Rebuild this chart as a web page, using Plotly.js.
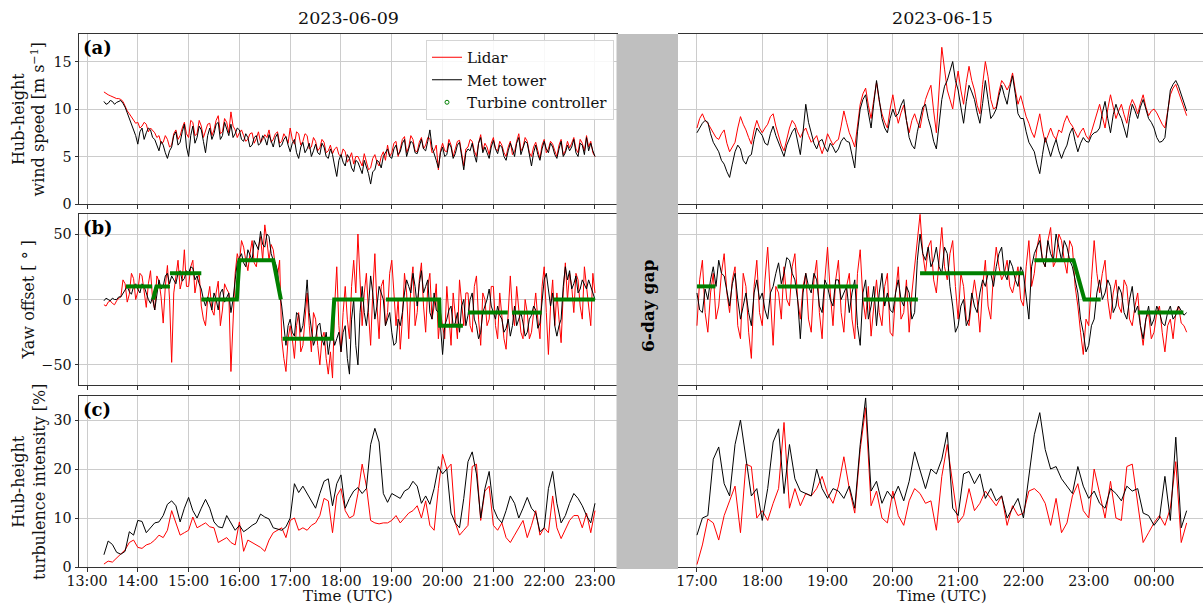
<!DOCTYPE html>
<html><head><meta charset="utf-8">
<script src="https://cdn.plot.ly/plotly-3.0.1.min.js"></script>
<style>html,body{margin:0;padding:0;background:#fff}#chart{width:1203px;height:606px}</style>
</head><body><div id="chart"></div>
<script>
// ---------------- DATA ----------------
const leftStart = '2023-06-09T13:20:00';   // first sample of 2023-06-09
const rightStart = '2023-06-15T17:00:00';  // first sample of 2023-06-15
const stepMinutes = 5;      // main samples; "Mid" arrays hold the samples half-way between them

// (a) Hub-height wind speed [m/s] — 2023-06-09 (13:20 … 23:00)
const wsLidarLeft = [
 11.8,11.5,11.3,11.1,11.0,10.3,9.5,8.8,
 8.6,8.2,8.4,8.0,7.5,7.2,6.5,6.8,6.2,7.8,7.2,8.6,
 7.0,8.6,7.4,8.2,7.6,8.5,7.8,9.3,7.6,8.6,9.7,7.8,
 7.5,7.2,6.8,7.5,6.9,6.5,7.3,7.8,6.8,7.6,6.6,7.0,
 8.0,6.3,7.4,6.6,7.2,6.0,6.6,5.9,6.5,5.6,5.3,6.0,
 5.0,5.5,4.8,4.2,5.0,4.0,4.5,3.8,5.2,4.0,5.5,6.2,
 5.4,6.6,5.8,7.1,6.0,6.8,5.5,7.0,6.2,6.9,5.6,3.6,
 6.4,5.5,6.2,5.8,6.7,4.0,6.0,6.6,5.0,7.3,6.4,5.2,
 7.0,5.6,6.2,5.0,6.6,5.5,7.4,6.0,6.6,5.0,6.5,4.8,
 6.8,5.8,6.3,5.0,6.8,5.6,5.9,7.0,5.4,6.4,7.2,6.6,
 5.0];
const wsLidarLeftMid = [
 11.6,11.4,11.2,11.1,10.8,9.8,9.2,8.5,
 8.0,8.6,7.6,7.8,7.0,6.4,7.2,6.0,7.4,6.8,8.0,7.4,
 8.8,7.2,8.8,7.0,8.4,7.2,8.8,7.4,9.0,7.5,8.2,7.0,
 7.8,6.6,7.4,6.4,7.6,6.8,7.0,6.5,7.4,6.4,7.4,6.4,
 6.8,7.6,6.2,7.4,5.8,7.0,5.6,6.8,5.4,6.2,5.8,5.2,
 5.8,4.4,5.4,5.0,4.4,5.3,3.6,4.8,4.4,5.0,4.6,5.0,
 6.4,5.0,6.8,5.4,7.2,5.6,6.5,5.8,7.0,5.4,6.2,5.6,
 5.6,6.8,5.0,6.6,5.2,5.8,6.8,5.6,6.4,5.6,6.0,6.4,
 5.8,6.6,5.4,6.0,5.2,6.6,5.6,7.0,5.4,6.0,5.6,6.2,
 5.4,6.6,5.6,6.2,5.2,6.6,6.4,5.8,6.8,5.6,6.0,5.4];
const wsMetLeft = [
 10.8,10.6,10.8,10.7,10.9,10.2,9.0,8.0,
 6.3,8.0,7.5,7.8,6.8,5.6,6.2,4.8,6.0,7.6,6.5,8.4,
 5.0,8.2,7.0,7.8,5.4,8.0,7.4,8.6,7.2,8.0,8.4,7.4,
 7.8,6.6,7.0,6.2,7.2,6.4,6.9,7.3,6.0,7.4,6.2,7.1,
 5.5,6.8,4.8,6.5,5.8,5.0,6.3,5.2,6.0,4.8,5.2,2.9,
 5.2,4.0,4.8,3.4,4.4,3.2,4.0,2.1,3.6,4.4,5.0,5.8,
 4.8,6.2,5.5,6.8,5.7,6.4,5.3,6.8,5.6,7.8,5.4,3.8,
 6.0,5.2,6.0,5.3,6.5,3.6,5.8,6.4,4.4,7.0,6.0,4.8,
 6.7,5.3,6.0,4.6,6.4,5.0,7.0,5.8,6.4,4.0,6.2,4.6,
 6.6,5.4,6.0,4.8,6.6,5.4,5.6,6.8,5.0,6.2,7.0,6.4,
 5.0];
const wsMetLeftMid = [
 10.5,10.9,10.5,10.8,10.6,9.6,8.4,7.2,
 7.6,6.8,8.0,7.0,6.2,6.6,5.4,5.6,7.2,6.2,7.6,6.0,
 7.2,6.4,8.2,6.6,7.2,6.8,8.4,6.8,8.6,7.2,7.0,8.0,
 6.8,7.4,6.0,7.0,6.2,7.2,6.2,6.6,7.0,6.0,6.8,6.2,
 6.4,5.4,6.0,5.4,6.4,5.6,5.4,6.4,5.0,5.8,4.0,4.6,
 4.4,5.2,3.8,4.6,3.8,4.6,3.2,3.4,4.6,3.8,5.4,5.0,
 5.8,5.2,6.4,5.0,6.6,5.4,6.2,5.8,6.6,6.0,4.6,5.4,
 5.0,6.4,4.8,6.2,4.8,5.4,5.6,5.2,6.4,5.4,5.4,6.0,
 5.8,6.2,5.0,5.6,5.8,6.4,5.2,6.6,5.2,5.4,5.2,5.8,
 5.8,6.4,5.2,5.8,5.0,6.2,6.0,5.4,6.4,5.2,5.6,5.6];
// (a) 2023-06-15 (17:00 … 00:30)
const wsLidarRight = [
 8.0,9.5,8.5,7.5,6.8,7.8,5.5,6.5,9.2,7.8,6.3,8.8,
 7.5,8.4,9.5,7.2,5.6,8.0,8.4,7.0,8.0,6.5,7.2,5.3,
 7.4,6.2,6.8,9.8,7.5,6.0,10.5,12.2,9.0,12.8,9.5,8.0,
 11.5,8.5,10.4,7.5,9.5,8.0,11.0,12.5,7.5,16.5,12.0,10.0,
 14.0,10.5,14.5,12.0,9.5,15.0,11.0,10.2,13.0,12.0,13.8,10.5,
 10.2,8.5,7.0,9.5,6.5,8.0,6.8,7.5,9.3,8.2,7.0,8.0,
 6.8,8.5,10.5,8.0,11.5,9.0,10.5,8.5,11.0,9.5,11.5,9.3,
 10.0,9.0,8.0,11.5,12.6,11.0,9.3];
const wsLidarRightMid = [
 9.0,8.8,8.0,7.0,7.4,6.4,6.0,8.0,8.4,7.0,7.8,8.0,
 8.0,9.2,8.2,6.2,6.8,8.8,7.6,7.6,7.2,6.8,6.2,6.2,
 6.8,6.6,8.2,8.6,6.8,8.2,11.6,10.4,11.0,10.8,8.6,10.0,
 9.8,9.6,8.8,8.8,8.6,9.6,11.8,9.8,12.0,14.2,11.0,12.2,
 12.0,12.8,13.0,10.4,12.6,13.4,10.0,11.8,12.6,12.6,12.0,11.4,
 9.2,7.6,8.4,7.8,7.2,7.2,7.8,8.6,8.6,7.6,7.6,7.2,
 7.6,9.6,9.2,10.0,10.2,9.8,9.4,10.2,10.4,10.6,10.2,9.8,
 9.6,8.4,10.0,12.2,11.8,10.0];
const wsMetRight = [
 7.5,8.5,8.6,6.5,5.5,4.2,2.8,5.5,5.8,4.2,5.2,8.0,
 7.2,6.2,8.2,6.5,5.0,7.0,8.0,5.2,10.5,7.5,5.8,6.8,
 5.5,6.0,5.8,7.0,6.5,3.8,10.0,11.5,8.0,13.0,9.0,7.5,
 10.0,9.5,11.0,7.0,5.8,9.0,10.5,8.0,5.8,11.0,13.0,15.0,
 12.0,8.5,12.5,11.0,8.5,13.0,9.0,10.0,12.5,10.5,13.5,9.5,
 9.0,6.5,5.5,3.2,7.0,5.0,6.8,4.8,6.2,8.0,5.5,7.0,
 6.5,7.5,8.0,10.8,7.5,10.5,9.0,7.0,10.5,9.0,11.0,9.0,
 8.0,6.5,7.0,12.0,13.0,11.5,9.8];
const wsMetRightMid = [
 8.0,8.8,7.4,6.0,4.6,3.4,4.2,6.2,4.6,5.0,6.8,7.6,
 6.4,7.4,7.2,5.6,6.2,7.6,6.4,7.6,8.6,6.4,6.6,6.0,
 6.4,5.4,6.6,6.6,5.0,7.6,11.0,9.6,10.6,11.0,8.0,9.0,
 9.2,10.4,8.8,6.2,7.6,10.2,9.0,6.6,8.6,12.4,14.0,13.0,
 10.2,10.8,11.8,9.6,10.6,11.0,9.4,11.4,11.4,12.2,11.6,9.0,
 7.6,6.0,4.2,5.2,6.0,6.0,5.6,5.6,7.4,6.6,6.4,6.6,
 7.2,7.6,9.6,9.0,9.4,9.6,8.0,9.0,9.8,10.2,10.0,8.6,
 7.0,6.6,9.6,12.6,12.4,10.6];

// (b) Yaw offset [deg] — 2023-06-09
const yawLidarLeft = [
 -4,-2,-3,-1,2,12,4,16,
 6,18,-6,22,-8,14,-18,26,-48,20,8,38,
 10,30,15,-5,-20,10,-12,14,-8,8,-55,20,
 28,40,22,45,25,48,57,30,38,18,-30,-55,
 -20,-45,-10,-35,5,-40,-15,-50,-25,-57,-60,25,
 -40,10,-30,30,50,-20,20,-35,35,-30,15,-10,
 30,-20,-38,20,-30,25,-10,28,-25,20,-5,-30,
 -20,10,-35,-10,15,-20,5,-25,18,-35,0,-15,
 10,-30,-15,-38,18,-20,-5,-30,-10,-25,5,-30,
 25,-42,15,5,-33,28,20,-10,15,-15,10,-20,
 5];
const yawLidarLeftMid = [
 -5,-1,-4,1,15,-2,20,0,
 20,5,12,0,18,2,10,0,5,30,15,10,
 25,5,20,-15,0,-8,5,-20,12,5,-10,35,
 45,30,35,28,40,30,45,42,25,30,-45,-30,
 -30,-20,-40,-15,-20,-10,-35,-30,-45,-40,-5,-20,
 -10,-15,10,5,15,5,-10,5,-5,10,-20,20,
 5,0,-15,5,10,-20,15,-5,10,-15,12,-10,
 -30,-15,5,-30,-5,5,-20,10,-15,5,-20,10,
 -20,5,-30,-5,-10,10,-25,0,-30,-10,-15,10,
 -10,-5,-20,-15,5,0,10,20,-5,25,-10,20];
const yawMetLeft = [
 -1,0,1,0,2,8,6,10,
 8,12,5,-3,-8,15,10,20,18,12,22,16,
 20,24,18,8,-5,-2,5,-8,8,2,-10,15,
 32,28,38,30,42,52,40,48,30,22,-5,-35,
 -15,-28,-12,-20,15,-25,-30,-18,-35,-42,-25,-30,
 -40,-20,-57,0,-50,10,-20,18,-15,10,0,-15,
 -25,-33,-20,5,10,20,-5,22,10,-10,5,-10,
 -42,-15,-5,-18,-25,0,-12,5,-20,-25,-5,8,
 -10,-5,-15,-22,-28,-5,-15,-18,-25,-12,-8,-18,
 15,8,5,-28,-15,25,22,12,5,15,8,10,
 0];
const yawMetLeftMid = [
 1,-1,0,2,5,10,4,12,
 5,10,0,2,5,8,18,12,15,20,14,22,
 25,15,12,0,2,-8,0,5,-2,5,0,28,
 35,25,34,45,38,42,50,35,28,5,-20,-20,
 -25,-10,-25,-5,-10,-35,-20,-30,-25,-30,-35,-25,
 -25,-45,-15,-35,-10,-10,-5,5,-5,5,-20,-10,
 -35,-15,-10,15,5,10,12,5,15,-15,-8,-20,
 -20,-8,-20,-10,-5,-20,0,-15,-30,-10,0,-5,
 -15,-12,-25,-15,-20,-20,-10,-28,-15,-5,-22,0,
 20,-5,-20,-20,10,15,8,18,8,12,15,5];
// (b) 2023-06-15
const yawLidarRight = [
 -20,30,-25,20,-5,35,-10,25,-30,10,-45,30,
 -20,40,-35,5,25,-5,35,-15,20,-25,30,-30,
 40,-20,30,-25,20,-30,38,-15,-28,15,-20,20,
 -28,25,-10,-25,25,65,20,45,5,55,15,45,
 -15,10,-20,15,-25,30,-15,40,15,30,5,25,
 -5,45,20,50,25,55,30,45,20,40,-5,-42,
 -20,45,5,30,-15,15,-10,10,-20,5,-35,-10,
 -25,-5,-40,-15,-10,-18,-25];
const yawLidarRightMid = [
 15,-10,5,-15,20,5,15,-20,20,-25,10,-10,
 15,0,10,-15,0,25,0,10,-15,15,-10,15,
 5,15,-10,10,-15,20,0,10,-5,-10,10,-25,
 5,-15,15,5,45,35,40,15,30,25,35,10,
 20,-15,0,0,10,-5,20,25,20,10,15,0,
 25,10,40,30,45,25,50,30,45,10,-25,-15,
 15,20,20,0,5,-5,15,-15,-5,-20,-15,-30,
 -10,-25,-20,-30,-5,-20];
const yawMetRight = [
 5,-10,0,25,30,18,-5,20,-15,5,-20,15,
 5,-15,10,28,20,30,15,-30,20,5,15,-10,
 10,-5,15,5,-10,15,-35,15,-5,-20,20,5,
 -10,15,-5,5,-10,50,30,25,40,20,35,-5,
 -20,0,-15,-5,5,10,20,25,40,15,25,10,
 20,-15,35,45,25,35,50,30,40,25,5,-25,
 -35,-15,15,5,10,-5,5,-15,10,-5,-30,-5,
 -15,-10,-20,-5,-12,-8,-10];
const yawMetRightMid = [
 -8,8,15,10,20,5,12,0,-5,-10,5,0,
 -8,5,20,12,32,20,0,5,10,20,-5,15,
 0,15,0,10,5,-20,5,-15,10,5,-5,-8,
 5,0,10,-15,30,35,40,30,25,40,10,-25,
 -5,-20,5,-10,15,20,10,35,20,30,15,25,
 0,25,40,30,45,30,40,45,30,15,-15,-40,
 -20,5,0,15,-10,10,-10,0,-10,-20,-15,-20,
 -5,-18,-10,-15,-5,-12];

// Turbine controller yaw-offset set points (null = gap)
const ctrlLeftTimes = [
 '2023-06-09 13:46','2023-06-09 14:17',null,
 '2023-06-09 14:18','2023-06-09 14:22','2023-06-09 14:38',null,
 '2023-06-09 14:38','2023-06-09 15:15',null,
 '2023-06-09 15:15','2023-06-09 15:57','2023-06-09 16:00','2023-06-09 16:40','2023-06-09 16:49',null,
 '2023-06-09 16:51','2023-06-09 17:49','2023-06-09 17:52','2023-06-09 18:27',null,
 '2023-06-09 18:53','2023-06-09 19:56','2023-06-09 19:57','2023-06-09 20:24',null,
 '2023-06-09 20:30','2023-06-09 21:17',null,
 '2023-06-09 21:22','2023-06-09 21:57',null,
 '2023-06-09 22:11','2023-06-09 23:00'];
const ctrlLeftValues = [
 10,10,null,
 0,10,10,null,
 20,20,null,
 0,0,30,30,0,null,
 -30,-30,0,0,null,
 0,0,-20,-20,null,
 -10,-10,null,
 -10,-10,null,
 0,0];
const ctrlRightTimes = [
 '2023-06-15 17:00','2023-06-15 17:17',null,
 '2023-06-15 18:14','2023-06-15 19:28',null,
 '2023-06-15 19:33','2023-06-15 20:23',null,
 '2023-06-15 20:25','2023-06-15 22:00',null,
 '2023-06-15 22:10','2023-06-15 22:46','2023-06-15 22:56','2023-06-15 23:11',null,
 '2023-06-15 23:45','2023-06-16 00:27'];
const ctrlRightValues = [
 10,10,null,
 10,10,null,
 0,0,null,
 20,20,null,
 30,30,0,0,null,
 -10,-10];

// (c) Hub-height turbulence intensity [%] — 2023-06-09 (5-minute samples)
const tiLidarLeft = [
 0.6,1.2,1.0,1.8,2.5,3.5,5.0,5.5,
 4.0,3.8,4.5,4.8,5.5,6.5,6.0,7.5,11.5,9.0,6.5,7.0,
 7.5,10.2,8.0,8.5,9.0,8.2,8.0,5.0,5.5,6.0,5.0,4.5,
 9.2,3.2,5.5,5.0,4.5,4.0,3.2,5.5,7.0,7.5,8.0,6.0,
 9.5,10.0,7.5,8.0,7.5,8.5,9.0,10.5,14.0,13.5,7.0,14.5,
 16.0,11.5,10.0,10.5,15.0,21.0,16.5,9.5,9.0,8.8,9.0,9.0,
 9.5,10.5,9.0,10.0,11.0,11.5,12.5,10.0,13.5,8.5,7.5,16.0,
 23.0,20.0,21.0,9.0,6.5,7.5,8.5,20.5,21.0,9.5,15.5,16.5,
 8.5,7.5,9.0,6.0,5.0,6.5,8.0,9.5,6.0,8.5,11.5,6.5,
 8.0,7.0,14.5,8.0,5.8,7.5,9.5,10.5,10.5,8.0,11.0,7.0,
 11.5];
const tiMetLeft = [
 2.5,5.3,4.6,3.0,2.6,3.2,7.2,6.5,
 9.5,9.3,7.0,8.0,9.0,9.2,10.5,12.8,13.5,12.5,9.2,12.0,
 14.2,11.5,10.0,12.0,13.8,12.0,9.2,8.2,8.0,10.5,9.0,7.5,
 8.5,7.2,7.8,8.5,9.0,10.8,10.2,9.8,8.0,7.8,7.5,8.2,
 10.0,17.0,15.2,16.5,15.0,13.5,12.0,15.0,17.5,18.0,12.5,17.0,
 18.8,12.0,14.0,15.5,16.2,15.0,16.0,25.0,28.3,25.5,15.0,13.2,
 15.0,14.5,14.0,15.5,16.0,17.5,16.5,13.0,14.5,12.8,16.0,20.5,
 19.0,20.0,11.0,9.0,8.0,14.0,21.5,23.5,19.0,10.0,16.0,19.5,
 12.0,10.0,9.0,11.5,14.5,13.0,10.0,12.0,14.2,12.0,11.0,7.2,
 8.0,16.0,19.5,13.0,9.0,10.5,13.0,15.0,14.0,12.5,10.5,9.0,
 13.0];
// (c) 2023-06-15
const tiLidarRight = [
 0.5,4.5,9.8,9.0,5.5,10.5,13.5,16.5,7.0,21.0,20.5,10.0,
 11.5,9.5,13.0,16.0,29.5,12.0,16.0,12.5,15.0,14.5,16.0,18.5,
 15.0,13.0,16.5,22.5,16.0,11.0,24.0,32.5,12.5,15.5,10.0,9.0,
 15.5,10.5,8.5,13.5,16.0,15.0,13.0,13.5,7.5,18.5,25.0,17.0,
 9.0,10.5,16.0,11.5,13.0,15.5,14.0,12.5,14.5,8.5,12.5,10.5,
 11.0,15.5,16.0,15.0,13.0,8.5,14.0,7.0,9.0,14.5,17.0,11.5,
 10.0,20.0,15.0,10.0,17.5,10.0,9.5,20.5,21.0,12.5,5.0,7.0,
 9.0,10.5,8.5,12.0,21.5,5.0,9.0];
const tiMetRight = [
 6.5,10.0,10.5,22.0,24.5,17.0,14.5,25.0,30.0,22.0,14.5,16.0,
 9.5,16.0,25.5,28.2,15.0,25.0,18.0,15.5,15.0,14.5,20.0,16.0,
 14.0,16.0,15.5,14.0,16.5,12.0,25.0,34.5,15.5,17.5,13.0,15.5,
 14.0,16.5,13.5,17.5,23.5,19.5,16.0,20.0,19.0,22.0,27.5,12.0,
 10.5,19.0,19.5,17.0,19.0,14.0,16.0,13.5,14.5,10.0,12.0,14.0,
 10.0,18.0,27.0,31.5,24.0,20.0,20.5,18.0,16.5,15.0,20.5,16.5,
 14.0,15.5,13.0,12.0,16.0,15.0,13.5,16.5,15.5,16.0,11.0,10.5,
 8.5,10.0,18.5,9.5,26.5,8.0,11.5];

// Tick labels / titles
const dayTitles = ['2023-06-09', '2023-06-15'];
const yTitles = ['Hub-height<br>wind speed [m s<sup>−1</sup>]', 'Yaw offset [ ° ]', 'Hub-height<br>turbulence intensity [%]'];
const panelLabels = ['(a)', '(b)', '(c)'];
const seriesNames = ['Lidar', 'Met tower', 'Turbine controller'];
const wsTicks = [0, 5, 10, 15];
const yawTicks = [-50, 0, 50];
const tiTicks = [0, 10, 20, 30];

// ---------------- BUILD ----------------
function pad(n){return String(n).padStart(2,'0');}
function makeTimes(start, n, stepMin){
  const t0 = Date.parse(start + 'Z');
  const out = [];
  for (let i = 0; i < n; i++) {
    const d = new Date(t0 + Math.round(i * stepMin * 60000));
    out.push(d.getUTCFullYear()+'-'+pad(d.getUTCMonth()+1)+'-'+pad(d.getUTCDate())+' '+
      pad(d.getUTCHours())+':'+pad(d.getUTCMinutes())+':'+pad(d.getUTCSeconds()));
  }
  return out;
}
function interleave(main, mid){
  const out = [];
  main.forEach((v, i) => { out.push(v); if (i < main.length - 1 && i < mid.length) out.push(mid[i]); });
  return out;
}
const tLeft = makeTimes(leftStart, tiLidarLeft.length, stepMinutes);
const tRight = makeTimes(rightStart, tiLidarRight.length, stepMinutes);
const wsLL = interleave(wsLidarLeft, wsLidarLeftMid), wsML = interleave(wsMetLeft, wsMetLeftMid);
const wsLR = interleave(wsLidarRight, wsLidarRightMid), wsMR = interleave(wsMetRight, wsMetRightMid);
const ywLL = interleave(yawLidarLeft, yawLidarLeftMid), ywML = interleave(yawMetLeft, yawMetLeftMid);
const ywLR = interleave(yawLidarRight, yawLidarRightMid), ywMR = interleave(yawMetRight, yawMetRightMid);
const tLeftFine = makeTimes(leftStart, wsLL.length, stepMinutes / 2);
const tRightFine = makeTimes(rightStart, wsLR.length, stepMinutes / 2);

const W = 1203, H = 606;
const FONT = "'DejaVu Serif', serif";
const TXT = '#111111';
const TICKSIZE = 14.3;
const px = v => v / W;
const py = v => 1 - v / H;

const RED = '#ff0000', BLACK = '#000000', GREEN = '#008000';
const traces = [];
function line(x, y, xa, ya, color, name, show){
  traces.push({type:'scatter', mode:'lines', x, y, xaxis:xa, yaxis:ya, name,
    showlegend: !!show, legendgroup:name, line:{color, width:1}, hoverinfo:'skip'});
}
function ctrl(x, y, xa, ya){
  traces.push({type:'scatter', mode:'lines', x, y, xaxis:xa, yaxis:ya, name:seriesNames[2],
    showlegend:false, legendgroup:seriesNames[2], connectgaps:false,
    line:{color:GREEN, width:4}, hoverinfo:'skip'});
}
// row (a)
line(tLeftFine, wsLL, 'x', 'y', RED, seriesNames[0], true);
line(tLeftFine, wsML, 'x', 'y', BLACK, seriesNames[1], true);
traces.push({type:'scatter', mode:'markers', x:[null], y:[null], xaxis:'x', yaxis:'y',
  name:seriesNames[2], legendgroup:seriesNames[2], showlegend:true,
  marker:{symbol:'circle-open', size:4, color:GREEN, line:{width:1, color:GREEN}}});
line(tRightFine, wsLR, 'x2', 'y2', RED, seriesNames[0], false);
line(tRightFine, wsMR, 'x2', 'y2', BLACK, seriesNames[1], false);
// row (b)
line(tLeftFine, ywLL, 'x3', 'y3', RED, seriesNames[0], false);
line(tLeftFine, ywML, 'x3', 'y3', BLACK, seriesNames[1], false);
ctrl(ctrlLeftTimes, ctrlLeftValues, 'x3', 'y3');
line(tRightFine, ywLR, 'x4', 'y4', RED, seriesNames[0], false);
line(tRightFine, ywMR, 'x4', 'y4', BLACK, seriesNames[1], false);
ctrl(ctrlRightTimes, ctrlRightValues, 'x4', 'y4');
// row (c)
line(tLeft, tiLidarLeft, 'x5', 'y5', RED, seriesNames[0], false);
line(tLeft, tiMetLeft, 'x5', 'y5', BLACK, seriesNames[1], false);
line(tRight, tiLidarRight, 'x6', 'y6', RED, seriesNames[0], false);
line(tRight, tiMetRight, 'x6', 'y6', BLACK, seriesNames[1], false);

// geometry (pixels)
const colX = [[79, 617], [678, 1206]];
const rowY = [[34, 204], [214, 385], [396, 567]];
const xRanges = [['2023-06-09 12:50:33', '2023-06-09 23:26:00'], ['2023-06-15 16:42:35', '2023-06-16 00:45:00']];
const tick0s = ['2023-06-09 13:00', '2023-06-15 17:00'];
const yRanges = [[0, 17.9], [-65.3, 65.3], [0, 34.9]];
const yTickSets = [wsTicks, yawTicks, tiTicks];
const yTitleX = [28.5, 28, 28.5];

const layout = {
  width: W, height: H, autosize: false,
  margin: {l:0, r:0, t:0, b:0, pad:0},
  paper_bgcolor: '#ffffff', plot_bgcolor: '#ffffff',
  font: {family: FONT, size: 15, color: TXT},
  showlegend: true,
  legend: {x: px(614), xanchor: 'right', y: py(40), yanchor: 'top',
    bgcolor: 'rgba(255,255,255,0.85)', bordercolor: '#d5d5d5', borderwidth: 1,
    font: {family: FONT, size: 15, color: TXT}, tracegroupgap: 0, itemwidth: 30,
    traceorder: 'normal'},
  annotations: [], shapes: []
};

let k = 1;
for (let r = 0; r < 3; r++) {
  for (let c = 0; c < 2; c++) {
    const sfx = k === 1 ? '' : String(k);
    const bottom = r === 2;
    layout['xaxis' + sfx] = {
      type: 'date', domain: [px(colX[c][0]), Math.min(1, px(colX[c][1]))],
      range: xRanges[c], anchor: 'y' + sfx,
      tick0: tick0s[c], dtick: 3600000, tickformat: '%H:%M',
      showticklabels: bottom, ticks: 'outside', ticklen: 3.5, tickwidth: 1, tickcolor: '#333',
      ticklabelstandoff: -3,
      tickfont: {family: FONT, size: TICKSIZE, color: TXT},
      showgrid: true, gridcolor: '#cccccc', gridwidth: 1,
      showline: true, mirror: true, linecolor: '#333', linewidth: 1,
      zeroline: false, automargin: false, fixedrange: true
    };
    layout['yaxis' + sfx] = {
      domain: [py(rowY[r][1]), py(rowY[r][0])], range: yRanges[r], anchor: 'x' + sfx,
      tickmode: 'array', tickvals: yTickSets[r],
      showticklabels: c === 0, ticks: c === 0 ? 'outside' : '', ticklen: 3.5, tickwidth: 1, tickcolor: '#333',
      tickfont: {family: FONT, size: TICKSIZE, color: TXT},
      showgrid: true, gridcolor: '#cccccc', gridwidth: 1,
      showline: c === 0, mirror: c === 0, linecolor: '#333', linewidth: 1,
      zeroline: false, automargin: false, fixedrange: true
    };
    k++;
  }
  // y-axis title
  layout.annotations.push({xref:'paper', yref:'paper', x: px(yTitleX[r]), y: py((rowY[r][0] + rowY[r][1]) / 2),
    xanchor:'center', yanchor:'middle', textangle:-90, showarrow:false, text: yTitles[r],
    font:{family: FONT, size: 16, color: TXT}});
  // panel label
  layout.annotations.push({xref:'paper', yref:'paper', x: px(81), y: py(rowY[r][0] + 1),
    xanchor:'left', yanchor:'top', showarrow:false, text: '<b>' + panelLabels[r] + '</b>',
    font:{family: FONT, size: 18, color: '#000'}});
}
// column titles and x-axis titles
const colCenters = [348, 942];
for (let c = 0; c < 2; c++) {
  layout.annotations.push({xref:'paper', yref:'paper', x: px(colCenters[c]), y: py(18),
    xanchor:'center', yanchor:'middle', showarrow:false, text: dayTitles[c],
    font:{family: FONT, size: 17.5, color: TXT}});
  layout.annotations.push({xref:'paper', yref:'paper', x: px(colCenters[c]), y: 0,
    xanchor:'center', yanchor:'bottom', showarrow:false, text: 'Time (UTC)', borderpad: 0,
    font:{family: FONT, size: 15.2, color: TXT}});
}
// gap band
layout.shapes.push({type:'rect', xref:'paper', yref:'paper', x0: px(616.5), x1: px(678), y0: py(569), y1: py(34),
  fillcolor:'#bfbfbf', line:{width:0}, layer:'above'});
layout.annotations.push({xref:'paper', yref:'paper', x: px(648), y: py(306),
  xanchor:'center', yanchor:'middle', textangle:-90, showarrow:false, text:'<b>6-day gap</b>',
  font:{family: FONT, size: 17, color: '#000'}});

Plotly.newPlot('chart', traces, layout, {staticPlot: true, displayModeBar: false});
</script>
</body></html>
